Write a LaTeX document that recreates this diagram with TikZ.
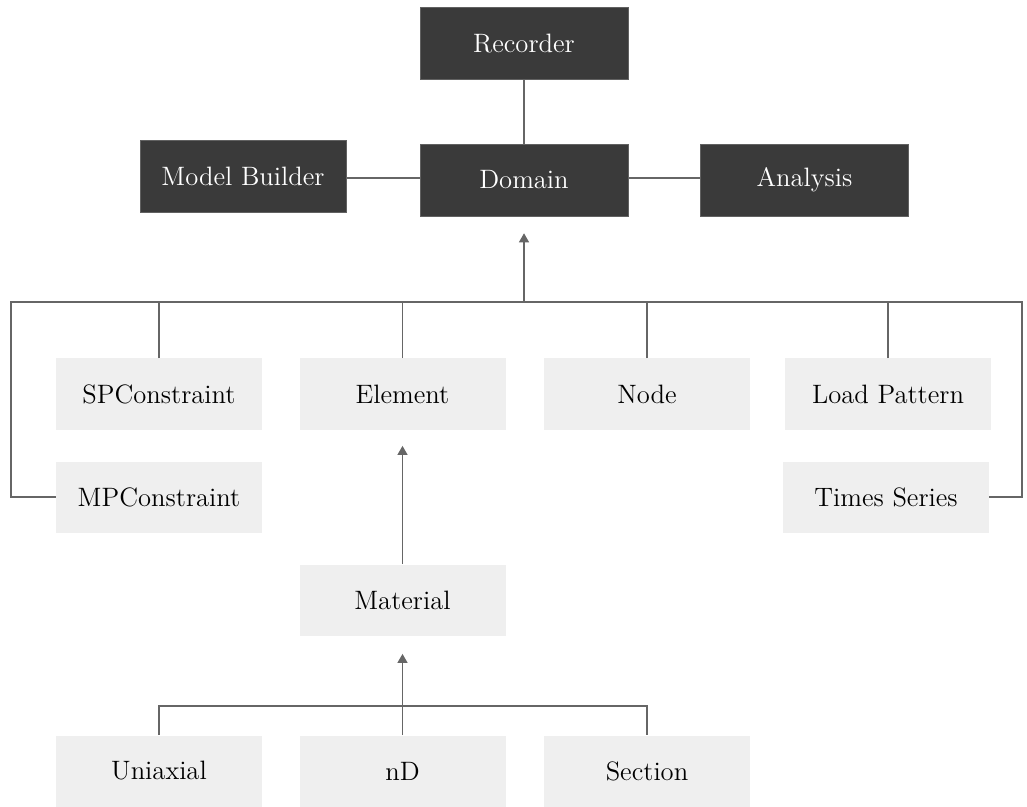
\documentclass[tikz,border=0pt]{standalone}
\usetikzlibrary{arrows.meta}
\definecolor{darkbox}{HTML}{3A3A3A}
\definecolor{lightbox}{HTML}{EFEFEF}
\definecolor{linegray}{HTML}{666666}
\begin{document}
\begin{tikzpicture}[x=0.5pt,y=-0.5pt,
  darkstyle/.style={rectangle,fill=darkbox,draw=darkbox!80!white,line width=0.3pt,text=white,minimum width=104pt,minimum height=36pt,inner sep=0pt,font=\fontsize{13.3}{16}\selectfont},
  lightstyle/.style={rectangle,fill=lightbox,minimum width=103pt,minimum height=35.5pt,inner sep=0pt,text=black,font=\fontsize{13.3}{16}\selectfont},
  conn/.style={draw=linegray,line width=0.6pt},
  arr/.style={conn,-{Triangle[width=5pt,length=4.5pt]}}]
\useasboundingbox (0,0) rectangle (1027,807);
% top dark boxes
\node[darkstyle] (rec) at (524,43.5) {Recorder};
\node[darkstyle] (dom) at (524,180) {Domain};
\node[darkstyle,minimum width=103pt] (mb) at (243,176.5) {Model Builder};
\node[darkstyle] (ana) at (804.5,180) {Analysis};
% light boxes
\node[lightstyle] (sp) at (159,394) {SPConstraint};
\node[lightstyle] (el) at (402.5,394) {Element};
\node[lightstyle] (nd) at (647,394) {Node};
\node[lightstyle] (lp) at (888,394) {Load Pattern};
\node[lightstyle] (mp) at (159,497) {MPConstraint};
\node[lightstyle] (ts) at (886,497) {Times Series};
\node[lightstyle] (mat) at (402.5,600) {Material};
\node[lightstyle] (uni) at (159,771) {Uniaxial};
\node[lightstyle] (nnd) at (402.5,771) {nD};
\node[lightstyle] (sec) at (647,771) {Section};
% coordinates
\coordinate (busL) at (11,302);
\coordinate (busR) at (1022,302);
\coordinate (busD) at (524,302);
\coordinate (mpL) at (11,497);
\coordinate (tsR) at (1022,497);
\coordinate (bbL) at (159,706);
\coordinate (bbR) at (647,706);
\coordinate (bbM) at (402.5,706);
% top connectors
\draw[conn] (rec.south) -- (dom.north);
\draw[conn] (mb.east |- 0,178) -- (dom.west |- 0,178);
\draw[conn] (dom.east |- 0,178) -- (ana.west |- 0,178);
\draw[arr,shorten >=8.5pt] (busD) -- (dom.south);
% bus
\draw[conn] (mp.west) -- (mpL) -- (busL) -- (busR) -- (tsR) -- (ts.east);
\draw[conn] (sp.north) -- (sp.north |- busL);
\draw[conn] (el.north) -- (el.north |- busL);
\draw[conn] (nd.north) -- (nd.north |- busL);
\draw[conn] (lp.north) -- (lp.north |- busL);
% material
\draw[arr,shorten >=8pt] (mat.north) -- (el.south);
\draw[arr,shorten >=9pt] (bbM) -- (mat.south);
\draw[conn] (uni.north) -- (bbL) -- (bbR) -- (sec.north);
\draw[conn] (nnd.north) -- (bbM);
\end{tikzpicture}
\end{document}
